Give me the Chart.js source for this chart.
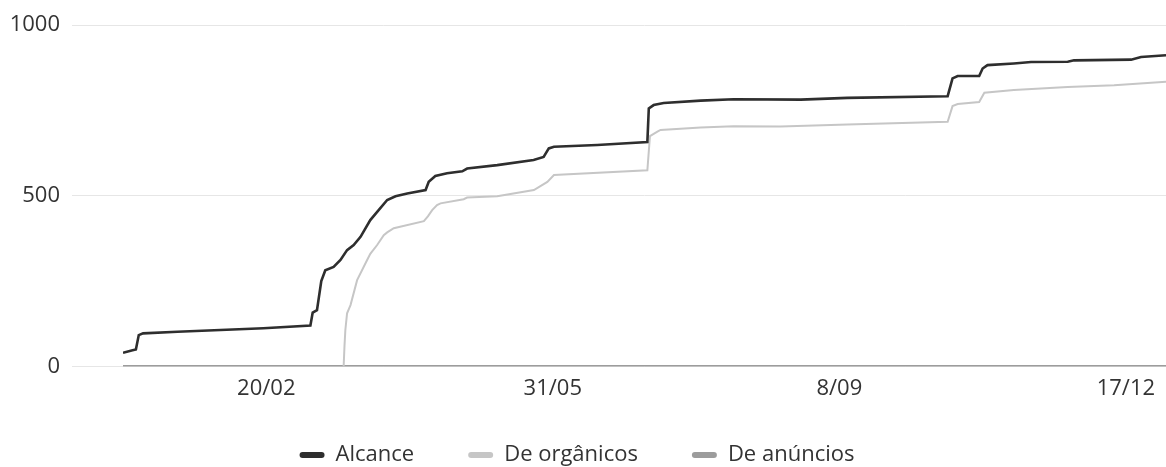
<!DOCTYPE html>
<html lang="pt-br">
<head>
    <meta charset="UTF-8">
    <title>Alcance</title>
    <script src="https://cdn.jsdelivr.net/npm/chart.js"></script>
    <style>
        body { margin: 0; background: #ffffff; }
    </style>
</head>
<body>
    <canvas id="grafico" width="1166" height="467"></canvas>

    <script>
        // Dias do ano (1 = 01/01) e valores acumulados
        var alcanceDias = [1, 4, 5.5, 6.5, 8, 20, 35, 50, 66.4, 67.2, 68.7, 70.2, 71.6, 74.5, 76.9, 79.2, 81.5, 83.9, 87.3, 89.7, 93.2, 96.1, 100.2, 106.6, 107.7, 110, 114.1, 119.4, 121.1, 131.6, 144.3, 147.8, 149.6, 151.4, 166.5, 184, 184.5, 186.2, 189.7, 202.6, 214.1, 237.5, 253.8, 288.8, 290.5, 292.3, 299.8, 301, 302.7, 311.9, 317.9, 330.7, 332.9, 352.8, 356.3, 365];
        var alcanceValores = [40, 47, 50, 92, 97, 102, 107, 112, 120, 158, 165, 250, 282, 292, 312, 341, 356, 380, 429, 453, 488, 499, 507, 517, 541, 558, 566, 572, 580, 590, 605, 614, 639, 644, 649, 658, 756, 766, 772, 779, 783, 782, 787, 792, 844, 851, 851, 873, 883, 888, 892, 893, 897, 899, 907, 912];

        var organicosDias = [78, 78.3, 78.6, 79.2, 80.4, 82.7, 86.2, 87.3, 89.7, 92, 93.2, 95.5, 106, 107.4, 108.9, 110.6, 111.8, 119.9, 121.1, 131.6, 144.4, 149.1, 151.4, 184, 184.9, 187.5, 188.6, 202.6, 214.1, 230.5, 253.8, 288.8, 290.5, 292.3, 299.8, 301.6, 311.9, 330.7, 346.9, 365];
        var organicosValores = [0, 60, 107, 156, 180, 253, 312, 330, 356, 385, 393, 405, 426, 440, 458, 473, 478, 490, 495, 499, 517, 541, 561, 575, 675, 688, 693, 700, 704, 703, 709, 717, 763, 769, 775, 802, 810, 819, 824, 834];

        var anunciosDias = [1, 365];
        var anunciosValores = [0, 0];

        var tickDias = [51, 151, 251, 351];
        var tickRotulos = ['20/02', '31/05', '8/09', '17/12'];
        var yTicks = [0, 500, 1000];

        function pares(dias, valores) {
            return dias.map(function (d, i) { return { x: d, y: valores[i] }; });
        }

        var fonte = { family: "'Open Sans', 'Noto Sans', sans-serif", size: 22 };

        // sobe o topo da legenda, para ficar com o espaçamento do original
        var ajusteLegenda = {
            id: 'ajusteLegenda',
            afterLayout: function (chart) {
                chart.legend.top -= 12;
                chart.legend.left -= 6;
                chart.legend.right -= 6;
            }
        };

        new Chart(document.getElementById('grafico'), {
            type: 'line',
            data: {
                datasets: [{
                    label: 'Alcance',
                    data: pares(alcanceDias, alcanceValores),
                    borderColor: '#2e2e2e',
                    backgroundColor: '#2e2e2e',
                    borderWidth: 2.6
                }, {
                    label: 'De orgânicos',
                    data: pares(organicosDias, organicosValores),
                    borderColor: '#c6c6c6',
                    backgroundColor: '#c6c6c6',
                    borderWidth: 2
                }, {
                    label: 'De anúncios',
                    data: pares(anunciosDias, anunciosValores),
                    borderColor: '#9c9c9c',
                    backgroundColor: '#9c9c9c',
                    borderWidth: 3
                }]
            },
            plugins: [ajusteLegenda],
            options: {
                responsive: false,
                animation: false,
                elements: {
                    point: { radius: 0 },
                    line: { tension: 0 }
                },
                layout: { padding: { top: 25, right: 0, left: 0, bottom: 0 } },
                plugins: {
                    tooltip: { enabled: false },
                    legend: {
                        position: 'bottom',
                        maxHeight: 65,
                        labels: {
                            font: fonte,
                            color: '#333333',
                            boxWidth: 25,
                            boxHeight: 6,
                            padding: 54,
                            useBorderRadius: true,
                            borderRadius: 3,
                            generateLabels: function (chart) {
                                var itens = Chart.defaults.plugins.legend.labels.generateLabels(chart);
                                itens.forEach(function (item) { item.lineWidth = 0; });
                                return itens;
                            }
                        }
                    }
                },
                scales: {
                    x: {
                        type: 'linear',
                        min: 1,
                        max: 365,
                        grid: { display: false, drawTicks: false },
                        border: { display: false },
                        afterBuildTicks: function (scale) {
                            scale.ticks = tickDias.map(function (v) { return { value: v }; });
                        },
                        afterFit: function (scale) { scale.height = 35.5; },
                        ticks: {
                            autoSkip: false,
                            maxRotation: 0,
                            padding: 9,
                            font: fonte,
                            color: '#333333',
                            callback: function (v) {
                                var i = tickDias.indexOf(v);
                                return i >= 0 ? tickRotulos[i] : '';
                            }
                        }
                    },
                    y: {
                        min: 0,
                        max: 1000,
                        border: { display: false },
                        grid: { color: '#e6e6e6', lineWidth: 1, tickLength: 51 },
                        afterBuildTicks: function (scale) {
                            scale.ticks = yTicks.map(function (v) { return { value: v }; });
                        },
                        afterFit: function (scale) { scale.width = 123; },
                        ticks: {
                            padding: 12,
                            font: fonte,
                            color: '#333333',
                            callback: function (v) { return String(v); }
                        }
                    }
                }
            }
        });
    </script>
</body>
</html>
